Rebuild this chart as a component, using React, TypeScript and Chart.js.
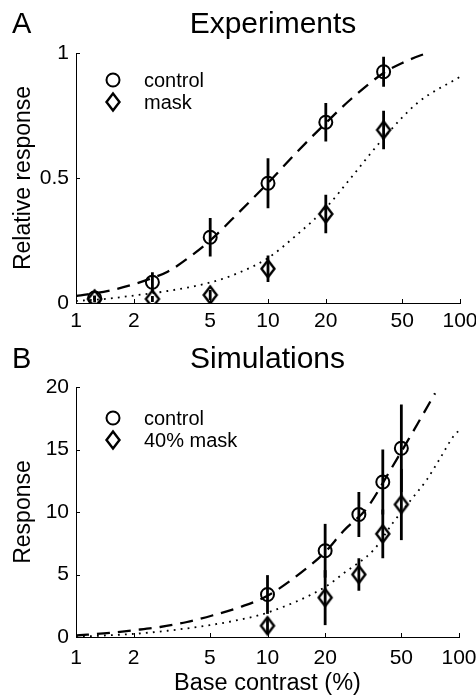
import React, { useEffect, useRef } from 'react';
import { Chart, registerables } from 'chart.js';

Chart.register(...registerables);

const FONT = '"Liberation Sans", Arial, Helvetica, sans-serif';

// ---------- shared axis ticks ----------
const xTicks = [1, 2, 5, 10, 20, 50, 100];

// ---------- Panel A: Experiments ----------
const aTitle = 'Experiments';
const aLetter = 'A';
const aYLabel = 'Relative response';
const aYTicks = [0, 0.5, 1];
const aLegend = ['control', 'mask'];
const aContrast = [1.25, 2.5, 5, 10, 20, 40];
const aControl = [0.02, 0.083, 0.263, 0.479, 0.723, 0.925];
const aControlErr = [0.008, 0.04, 0.077, 0.1, 0.077, 0.06];
const aMask = [0.016, 0.016, 0.032, 0.137, 0.356, 0.692];
const aMaskErr = [0.014, 0.012, 0.02, 0.053, 0.077, 0.077];
const aControlFitX = [1, 1.5, 2, 2.5, 3, 4, 5, 7, 10, 14, 20, 27, 40, 50, 62, 68];
const aControlFitY = [0.028, 0.05, 0.075, 0.1, 0.125, 0.19, 0.25, 0.36, 0.48, 0.6, 0.72, 0.815, 0.92, 0.96, 0.99, 1.0];
const aMaskFitX = [1, 1.5, 2, 3, 5, 7, 10, 14, 20, 27, 40, 60, 100];
const aMaskFitY = [0.008, 0.018, 0.03, 0.048, 0.082, 0.12, 0.18, 0.27, 0.38, 0.5, 0.66, 0.8, 0.905];

// ---------- Panel B: Simulations ----------
const bTitle = 'Simulations';
const bLetter = 'B';
const bYLabel = 'Response';
const bXLabel = 'Base contrast (%)';
const bYTicks = [0, 5, 10, 15, 20];
const bLegend = ['control', '40% mask'];
const bContrast = [10, 20, 30, 40, 50];
const bControl = [3.4, 6.9, 9.8, 12.4, 15.1];
const bControlErr = [1.55, 2.15, 1.8, 2.6, 3.5];
const bMask = [0.9, 3.15, 5.0, 8.25, 10.6];
const bMaskErr = [0.65, 2.2, 1.3, 1.95, 2.85];
const bControlFitX = [1, 1.5, 2, 2.75, 3.8, 5.2, 7.2, 10, 16, 20, 25, 33, 44, 61, 75];
const bControlFitY = [0.12, 0.33, 0.54, 0.8, 1.2, 1.74, 2.4, 3.3, 5.5, 6.8, 8.5, 10.3, 13.4, 17.1, 19.5];
const bMaskFitX = [1, 2, 3, 5, 7.5, 10, 20, 25, 36, 45, 55, 68, 79, 95, 100];
const bMaskFitY = [0.02, 0.25, 0.5, 0.95, 1.45, 1.95, 4.0, 5.1, 7.0, 9.1, 10.8, 12.6, 14.2, 16.2, 16.5];

type Panel = {
  letter: string; title: string; yLabel: string; xLabel: string | null;
  yTicks: number[]; yMax: number; legend: string[];
  cx: number[]; cy: number[]; ce: number[];
  mx: number[]; my: number[]; me: number[];
  fcx: number[]; fcy: number[]; fmx: number[]; fmy: number[];
  width: number; height: number; padRight: number; xHeight: number; tickPad: number;
  legendY: number[]; textBase: number[]; titleBase: number; titleX: number;
};

const panelA: Panel = {
  letter: aLetter, title: aTitle, yLabel: aYLabel, xLabel: null,
  yTicks: aYTicks, yMax: 1, legend: aLegend,
  cx: aContrast, cy: aControl, ce: aControlErr,
  mx: aContrast, my: aMask, me: aMaskErr,
  fcx: aControlFitX, fcy: aControlFitY, fmx: aMaskFitX, fmy: aMaskFitY,
  width: 500, height: 334, padRight: 40, xHeight: 31, tickPad: 6,
  legendY: [80, 102], textBase: [86.5, 108.5], titleBase: 33.3, titleX: 273,
};

const panelB: Panel = {
  letter: bLetter, title: bTitle, yLabel: bYLabel, xLabel: bXLabel,
  yTicks: bYTicks, yMax: 20, legend: bLegend,
  cx: bContrast, cy: bControl, ce: bControlErr,
  mx: bContrast, my: bMask, me: bMaskErr,
  fcx: bControlFitX, fcy: bControlFitY, fmx: bMaskFitX, fmy: bMaskFitY,
  width: 500, height: 364, padRight: 41, xHeight: 61, tickPad: 9,
  legendY: [84, 106], textBase: [91, 113.3], titleBase: 34.3, titleX: 267.5,
};

function makeDiamond(): HTMLCanvasElement {
  const c = document.createElement('canvas');
  c.width = 18; c.height = 22;
  const g = c.getContext('2d')!;
  g.strokeStyle = '#000';
  g.lineWidth = 2.4;
  g.beginPath();
  g.moveTo(9, 2.5); g.lineTo(15.5, 11); g.lineTo(9, 19.5); g.lineTo(2.5, 11);
  g.closePath(); g.stroke();
  return c;
}

function pts(xs: number[], ys: number[]) {
  return xs.map((x, i) => ({ x, y: ys[i] }));
}

function makeChart(canvas: HTMLCanvasElement, p: Panel) {
  const diamond = makeDiamond();
  const decor = {
    id: 'decor',
    afterDatasetsDraw(chart: any) {
      const { ctx, scales: { x, y } } = chart;
      ctx.save();
      ctx.strokeStyle = '#000';
      ctx.lineWidth = 2.8;
      ctx.lineCap = 'butt';
      const sets = [[p.cx, p.cy, p.ce], [p.mx, p.my, p.me]];
      sets.forEach(([xs, ys, es]) => {
        xs.forEach((xv, i) => {
          const px = x.getPixelForValue(xv);
          ctx.beginPath();
          ctx.moveTo(px, y.getPixelForValue(ys[i] - es[i]));
          ctx.lineTo(px, y.getPixelForValue(ys[i] + es[i]));
          ctx.stroke();
        });
      });
      ctx.restore();
    },
    afterDraw(chart: any) {
      const { ctx, scales: { x, y }, chartArea } = chart;
      ctx.save();
      // inward tick marks
      ctx.strokeStyle = '#000';
      ctx.lineWidth = 1;
      x.ticks.forEach((t: any) => {
        const px = Math.round(x.getPixelForValue(t.value)) + 0.5;
        ctx.beginPath();
        ctx.moveTo(px, chartArea.bottom);
        ctx.lineTo(px, chartArea.bottom - 4);
        ctx.stroke();
      });
      y.ticks.forEach((t: any) => {
        const py = Math.round(y.getPixelForValue(t.value)) + 0.5;
        ctx.beginPath();
        ctx.moveTo(chartArea.left, py);
        ctx.lineTo(chartArea.left + 4, py);
        ctx.stroke();
      });
      // letter and title
      ctx.fillStyle = '#000';
      ctx.textBaseline = 'alphabetic';
      ctx.textAlign = 'left';
      ctx.font = `29px ${FONT}`;
      ctx.fillText(p.letter, 12, p.titleBase);
      ctx.textAlign = 'center';
      ctx.font = `30px ${FONT}`;
      ctx.fillText(p.title, p.titleX, p.titleBase);
      // legend
      ctx.textAlign = 'left';
      ctx.font = `20px ${FONT}`;
      ctx.lineWidth = 2;
      ctx.beginPath();
      ctx.arc(113, p.legendY[0], 6.5, 0, Math.PI * 2);
      ctx.stroke();
      ctx.drawImage(diamond, 113 - diamond.width / 2, p.legendY[1] - diamond.height / 2);
      ctx.fillText(p.legend[0], 144, p.textBase[0]);
      ctx.fillText(p.legend[1], 144, p.textBase[1]);
      ctx.restore();
    },
  };

  return new Chart(canvas, {
    type: 'line',
    data: {
      datasets: [
        {
          data: pts(p.cx, p.cy), showLine: false, pointStyle: 'circle', pointRadius: 6.5,
          borderWidth: 2, borderColor: '#000', backgroundColor: 'transparent',
          pointBorderWidth: 2, pointBackgroundColor: 'transparent', pointBorderColor: '#000',
        },
        {
          data: pts(p.mx, p.my), showLine: false, pointStyle: diamond as any, pointRadius: 8,
          borderColor: '#000', backgroundColor: 'transparent',
        },
        {
          data: pts(p.fcx, p.fcy), borderColor: '#000', borderWidth: 2.3, borderDash: [13, 8],
          pointRadius: 0, cubicInterpolationMode: 'monotone', fill: false,
        },
        {
          data: pts(p.fmx, p.fmy), borderColor: '#000', borderWidth: 1.8, borderDash: [1.8, 5.2],
          pointRadius: 0, cubicInterpolationMode: 'monotone', fill: false,
        },
      ] as any,
    },
    options: {
      animation: false,
      responsive: false,
      events: [],
      layout: { padding: { left: 0, right: p.padRight, top: 53, bottom: 0 } },
      plugins: { legend: { display: false }, title: { display: false }, tooltip: { enabled: false } },
      scales: {
        x: {
          type: 'logarithmic', min: 1, max: 100,
          afterBuildTicks: (s: any) => { s.ticks = xTicks.map((v) => ({ value: v })); },
          afterFit: (s: any) => { s.height = p.xHeight; },
          grid: { drawOnChartArea: false, drawTicks: false },
          border: { display: true, color: '#000', width: 1 },
          ticks: {
            callback: (v: any) => String(v), color: '#000', padding: p.tickPad,
            font: { family: FONT, size: 21 }, maxRotation: 0, autoSkip: false,
          },
          title: p.xLabel ? {
            display: true, text: p.xLabel, color: '#000',
            font: { family: FONT, size: 23.5 }, padding: { top: 0, bottom: 0 },
          } : { display: false },
        },
        y: {
          type: 'linear', min: 0, max: p.yMax,
          afterBuildTicks: (s: any) => { s.ticks = p.yTicks.map((v) => ({ value: v })); },
          afterFit: (s: any) => { s.width = 76; },
          grid: { drawOnChartArea: false, drawTicks: false },
          border: { display: true, color: '#000', width: 1 },
          ticks: {
            callback: (v: any) => String(v), color: '#000', padding: 7,
            font: { family: FONT, size: 21 },
          },
          title: {
            display: true, text: p.yLabel, color: '#000',
            font: { family: FONT, size: 23 }, padding: { top: 10, bottom: 0 },
          },
        },
      },
    } as any,
    plugins: [decor],
  });
}

export default function App() {
  const refA = useRef<HTMLCanvasElement>(null);
  const refB = useRef<HTMLCanvasElement>(null);

  useEffect(() => {
    const ca = makeChart(refA.current!, panelA);
    const cb = makeChart(refB.current!, panelB);
    return () => { ca.destroy(); cb.destroy(); };
  }, []);

  return (
    <div style={{ position: 'absolute', left: 0, top: 0, width: 476, height: 698, overflow: 'hidden', background: '#fff' }}>
      <canvas ref={refA} width={panelA.width} height={panelA.height}
        style={{ position: 'absolute', left: 0, top: 0, width: panelA.width, height: panelA.height }} />
      <canvas ref={refB} width={panelB.width} height={panelB.height}
        style={{ position: 'absolute', left: 0, top: 334, width: panelB.width, height: panelB.height }} />
    </div>
  );
}
